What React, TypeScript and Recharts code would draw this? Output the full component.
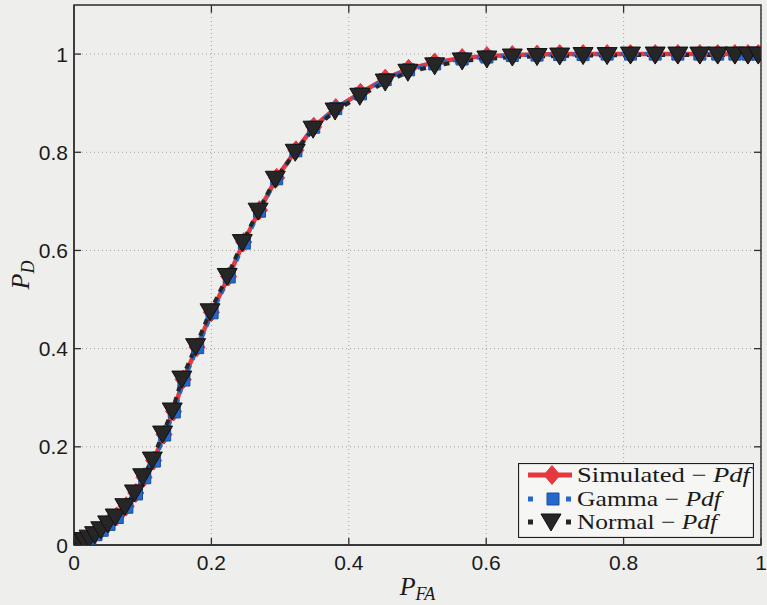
import React from 'react';
import { LineChart, Line, XAxis, YAxis, CartesianGrid, Label, ReferenceArea, ReferenceLine } from 'recharts';

const xTicks = [0, 0.2, 0.4, 0.6, 0.8, 1];
const xTickLabels = ['0', '0.2', '0.4', '0.6', '0.8', '1'];
const yTicks = [0, 0.2, 0.4, 0.6, 0.8, 1];
const yTickLabels = ['0', '0.2', '0.4', '0.6', '0.8', '1'];
const xDomain = [0, 1];
const yDomain = [0, 1.1];

const seriesNames = ['Simulated', 'Gamma', 'Normal'];

const pfaSimulated = [0, 0.004, 0.009, 0.015, 0.023, 0.031, 0.040, 0.050, 0.062, 0.076, 0.090, 0.102, 0.116, 0.131, 0.145, 0.159, 0.179, 0.200, 0.225, 0.247, 0.270, 0.295, 0.323, 0.349, 0.381, 0.417, 0.453, 0.487, 0.525, 0.565, 0.601, 0.638, 0.674, 0.707, 0.741, 0.776, 0.810, 0.846, 0.879, 0.911, 0.937, 0.962, 0.981, 0.996];
const pdSimulated = [0, 0.003, 0.006, 0.010, 0.016, 0.023, 0.032, 0.044, 0.058, 0.079, 0.106, 0.138, 0.172, 0.225, 0.272, 0.337, 0.403, 0.474, 0.547, 0.617, 0.682, 0.748, 0.804, 0.852, 0.890, 0.921, 0.950, 0.970, 0.983, 0.992, 0.996, 0.998, 0.999, 1.000, 1.000, 1.000, 1.000, 1.000, 1.000, 1.000, 1.000, 1.000, 1.000, 1.000];

const pfaGamma = [0, 0.004, 0.010, 0.016, 0.023, 0.032, 0.041, 0.051, 0.063, 0.077, 0.091, 0.103, 0.117, 0.132, 0.146, 0.160, 0.180, 0.201, 0.226, 0.248, 0.270, 0.295, 0.323, 0.349, 0.381, 0.417, 0.453, 0.487, 0.525, 0.565, 0.601, 0.638, 0.674, 0.707, 0.741, 0.776, 0.810, 0.846, 0.879, 0.911, 0.937, 0.962, 0.981, 0.996];
const pdGamma = [0, 0.002, 0.005, 0.009, 0.014, 0.021, 0.030, 0.042, 0.056, 0.077, 0.104, 0.137, 0.171, 0.224, 0.271, 0.336, 0.402, 0.473, 0.546, 0.615, 0.680, 0.746, 0.803, 0.851, 0.889, 0.919, 0.948, 0.968, 0.980, 0.990, 0.994, 0.997, 0.998, 0.999, 0.999, 1.000, 1.000, 1.000, 1.000, 1.000, 1.000, 1.000, 1.000, 1.000];

const pfaNormal = [0, 0.004, 0.009, 0.015, 0.022, 0.030, 0.039, 0.049, 0.060, 0.074, 0.088, 0.100, 0.114, 0.129, 0.143, 0.157, 0.177, 0.198, 0.223, 0.245, 0.268, 0.293, 0.322, 0.348, 0.380, 0.416, 0.453, 0.486, 0.525, 0.565, 0.601, 0.638, 0.674, 0.707, 0.741, 0.776, 0.810, 0.846, 0.879, 0.911, 0.937, 0.962, 0.981, 0.996];
const pdNormal = [0, 0.002, 0.005, 0.009, 0.014, 0.021, 0.031, 0.043, 0.057, 0.078, 0.106, 0.139, 0.173, 0.226, 0.273, 0.338, 0.404, 0.475, 0.547, 0.616, 0.680, 0.745, 0.800, 0.847, 0.884, 0.914, 0.943, 0.963, 0.976, 0.986, 0.990, 0.994, 0.995, 0.996, 0.997, 0.997, 0.998, 0.998, 0.998, 0.998, 0.998, 0.998, 0.998, 0.998];

const toRows = (xs: number[], ys: number[]) => xs.map((x, i) => ({ x, y: ys[i] }));
const simRows = toRows(pfaSimulated, pdSimulated);
const gammaRows = toRows(pfaGamma, pdGamma);
const normalRows = toRows(pfaNormal, pdNormal);

const RED = '#e5383f';
const BLUE = '#2468cc';
const BLACK = '#262626';
const AXIS = '#2e2e2e';
const BG = '#eeeeec';
const TICK_FONT = '"Liberation Sans", Arial, Helvetica, sans-serif';
const SERIF = '"Liberation Serif", "Times New Roman", Times, serif';

// inner tick length, expressed as a fraction of each axis span
const TICK_FRAC_X = 0.0102;
const TICK_FRAC_Y = 0.0143;

const diamondPath = (cx: number, cy: number) =>
  `M${cx},${cy - 9.5}L${cx + 8},${cy}L${cx},${cy + 9.5}L${cx - 8},${cy}Z`;
const squarePath = (cx: number, cy: number) =>
  `M${cx - 6},${cy - 6}h12v12h-12Z`;
const trianglePath = (cx: number, cy: number) =>
  `M${cx - 10},${cy - 8}L${cx + 10},${cy - 8}L${cx},${cy + 9}Z`;

const SimDot = (p: any) =>
  p.cx == null ? <g key={`s${p.index}`} /> : (
    <path key={`s${p.index}`} d={diamondPath(p.cx, p.cy)} fill={RED} stroke={RED} strokeWidth={1} />
  );
const GammaDot = (p: any) =>
  p.cx == null ? <g key={`g${p.index}`} /> : (
    <path key={`g${p.index}`} d={squarePath(p.cx, p.cy)} fill={BLUE} stroke="#1a4f9e" strokeWidth={1} />
  );
const NormalDot = (p: any) =>
  p.cx == null ? <g key={`n${p.index}`} /> : (
    <path key={`n${p.index}`} d={trianglePath(p.cx, p.cy)} fill={BLACK} stroke="#111" strokeWidth={1} />
  );

const labelFor = (ticks: number[], labels: string[], v: number) => {
  const i = ticks.findIndex((t) => Math.abs(t - v) < 1e-9);
  return i >= 0 ? labels[i] : String(v);
};

const LeftTick = (p: any) => (
  <g>
    <text x={p.x} y={p.y} dy="0.36em" textAnchor="end" fontFamily={TICK_FONT} fontSize={21} fill="#1a1a1a">
      {labelFor(yTicks, yTickLabels, p.payload.value)}
    </text>
    <line x1={p.x + 6} y1={p.y} x2={p.x + 13} y2={p.y} stroke={AXIS} strokeWidth={1.3} />
  </g>
);

const BottomTick = (p: any) => (
  <g>
    <text x={p.x} y={p.y} dy="0.72em" textAnchor="middle" fontFamily={TICK_FONT} fontSize={21} fill="#1a1a1a">
      {labelFor(xTicks, xTickLabels, p.payload.value)}
    </text>
    <line x1={p.x} y1={p.y - 10} x2={p.x} y2={p.y - 17} stroke={AXIS} strokeWidth={1.3} />
  </g>
);

const XLabel = (props: any) => {
  const vb = props.viewBox;
  const cx = vb.x + vb.width / 2;
  return (
    <text x={cx} y={vb.y + 50} textAnchor="middle" fontFamily={SERIF} fontStyle="italic" fill="#1a1a1a">
      <tspan fontSize={26}>P</tspan>
      <tspan fontSize={18} dy={5}>FA</tspan>
    </text>
  );
};

const YLabel = (props: any) => {
  const vb = props.viewBox;
  const cx = 29;
  const cy = vb.y + vb.height / 2;
  return (
    <text x={cx} y={cy} textAnchor="middle" fontFamily={SERIF} fontStyle="italic" fill="#1a1a1a"
      transform={`rotate(-90, ${cx}, ${cy})`}>
      <tspan fontSize={26}>P</tspan>
      <tspan fontSize={18} dy={5}>D</tspan>
    </text>
  );
};

const LegendBox = () => {
  const rows = [12, 36, 59];
  const widths = [173, 144, 140];
  return (
    <svg width={236} height={75} style={{ position: 'absolute', left: 518, top: 463 }}>
      <rect x={0.5} y={0.5} width={235} height={74} fill="#f6f6f4" stroke="#1e1e1e" strokeWidth={1.2} />
      <line x1={10} y1={rows[0]} x2={54} y2={rows[0]} stroke={RED} strokeWidth={5} />
      <path d={diamondPath(34, rows[0])} fill={RED} stroke={RED} />
      <line x1={10} y1={rows[1]} x2={54} y2={rows[1]} stroke={BLUE} strokeWidth={5} strokeDasharray="5 14" />
      <path d={squarePath(35, rows[1])} fill={BLUE} stroke="#1a4f9e" />
      <line x1={10} y1={rows[2]} x2={54} y2={rows[2]} stroke={BLACK} strokeWidth={5} strokeDasharray="5 14" />
      <path d={trianglePath(33, rows[2])} fill={BLACK} stroke="#111" />
      {seriesNames.map((n, i) => (
        <text key={n} x={59} y={rows[i]} dy="0.34em" fontFamily={SERIF} fontSize={21} fill="#1a1a1a"
          textLength={widths[i]} lengthAdjust="spacingAndGlyphs">
          {n} {'\u2212'} <tspan fontStyle="italic">Pdf</tspan>
        </text>
      ))}
    </svg>
  );
};

export default function App() {
  const xMax = xDomain[1];
  const yMax = yDomain[1];
  return (
    <div style={{ position: 'absolute', left: 0, top: 0, width: 767, height: 605, background: BG, overflow: 'hidden' }}>
      <LineChart width={767} height={605} margin={{ top: 5, right: 6, bottom: 0, left: 0 }}>
        <CartesianGrid stroke="#a3a3a3" strokeDasharray="1 3" strokeWidth={1} />
        <XAxis
          dataKey="x"
          type="number"
          domain={xDomain}
          ticks={xTicks}
          height={60}
          tickSize={0}
          tickMargin={10}
          tick={BottomTick}
          axisLine={{ stroke: AXIS, strokeWidth: 1.4 }}
          tickLine={false}
          interval={0}
          allowDataOverflow
        >
          <Label content={XLabel} />
        </XAxis>
        <YAxis
          type="number"
          domain={yDomain}
          ticks={yTicks}
          width={74}
          tickSize={0}
          tickMargin={6}
          tick={LeftTick}
          axisLine={{ stroke: AXIS, strokeWidth: 1.4 }}
          tickLine={false}
          interval={0}
          allowDataOverflow
        >
          <Label content={YLabel} />
        </YAxis>
        <ReferenceArea x1={xDomain[0]} x2={xMax} y1={yDomain[0]} y2={yMax} fill="none" stroke={AXIS} strokeWidth={1.4} ifOverflow="visible" />
        {xTicks.slice(1, -1).map((t) => (
          <ReferenceLine key={`tt${t}`} segment={[{ x: t, y: yMax }, { x: t, y: yMax - TICK_FRAC_Y * yMax }]} stroke={AXIS} strokeWidth={1.3} ifOverflow="visible" />
        ))}
        {yTicks.slice(1).map((t) => (
          <ReferenceLine key={`rt${t}`} segment={[{ x: xMax, y: t }, { x: xMax - TICK_FRAC_X * xMax, y: t }]} stroke={AXIS} strokeWidth={1.3} ifOverflow="visible" />
        ))}
        <Line
          data={simRows}
          dataKey="y"
          name={seriesNames[0]}
          type="linear"
          stroke={RED}
          strokeWidth={4.5}
          dot={SimDot}
          activeDot={false}
          isAnimationActive={false}
        />
        <Line
          data={gammaRows}
          dataKey="y"
          name={seriesNames[1]}
          type="linear"
          stroke={BLUE}
          strokeWidth={4}
          strokeDasharray="6 6"
          dot={GammaDot}
          activeDot={false}
          isAnimationActive={false}
        />
        <Line
          data={normalRows}
          dataKey="y"
          name={seriesNames[2]}
          type="linear"
          stroke={BLACK}
          strokeWidth={4}
          strokeDasharray="6 6"
          dot={NormalDot}
          activeDot={false}
          isAnimationActive={false}
        />
      </LineChart>
      <LegendBox />
    </div>
  );
}
